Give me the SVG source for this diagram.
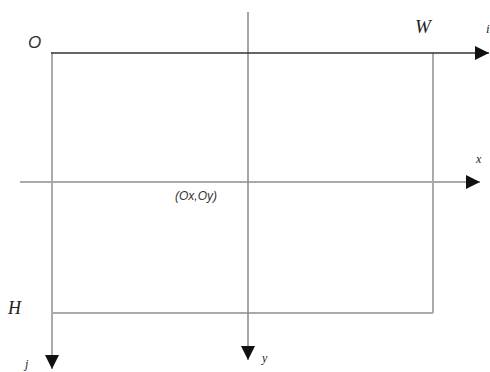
<svg xmlns="http://www.w3.org/2000/svg" width="490" height="372" viewBox="0 0 490 372">
<style>
.dark{stroke:#333;stroke-width:1.5;fill:none}
.gray{stroke:#aaa;stroke-width:2;fill:none}
.mid{stroke:#888;stroke-width:1.5;fill:none}
.lbl{font-family:"Liberation Serif",serif;font-style:italic;fill:#222}
.sans{font-family:"Liberation Sans",sans-serif;font-style:italic;fill:#333}
</style>
<defs>
<marker id="ah" viewBox="0 0 10 10" refX="10" refY="5" markerWidth="14" markerHeight="14" markerUnits="userSpaceOnUse" orient="auto">
<path d="M0,0 L10,5 L0,10 z" fill="#111"/>
</marker>
</defs>
<g id="connectors">
<line class="gray" x1="433" y1="53" x2="433" y2="313"/>
<line class="gray" x1="51" y1="313" x2="433" y2="313"/>
<line class="gray" x1="20" y1="182" x2="480" y2="182" marker-end="url(#ah)"/>
<line class="mid" x1="248" y1="12" x2="248" y2="360" marker-end="url(#ah)"/>
<line class="gray" x1="52" y1="53" x2="52" y2="369" marker-end="url(#ah)"/>
<line class="dark" x1="51" y1="53" x2="489" y2="53" marker-end="url(#ah)"/>
</g>
<g id="labels">
<text class="sans" x="28" y="48" font-size="17">O</text>
<text class="lbl" x="415" y="33" font-size="19">W</text>
<text class="lbl" x="486" y="33" font-size="13">i</text>
<text class="lbl" x="476" y="163" font-size="12">x</text>
<text class="sans" x="175" y="200" font-size="12">(Ox,Oy)</text>
<text class="lbl" x="8" y="314" font-size="18">H</text>
<text class="lbl" x="25" y="368" font-size="12">j</text>
<text class="lbl" x="262" y="362" font-size="12">y</text>
</g>
</svg>
